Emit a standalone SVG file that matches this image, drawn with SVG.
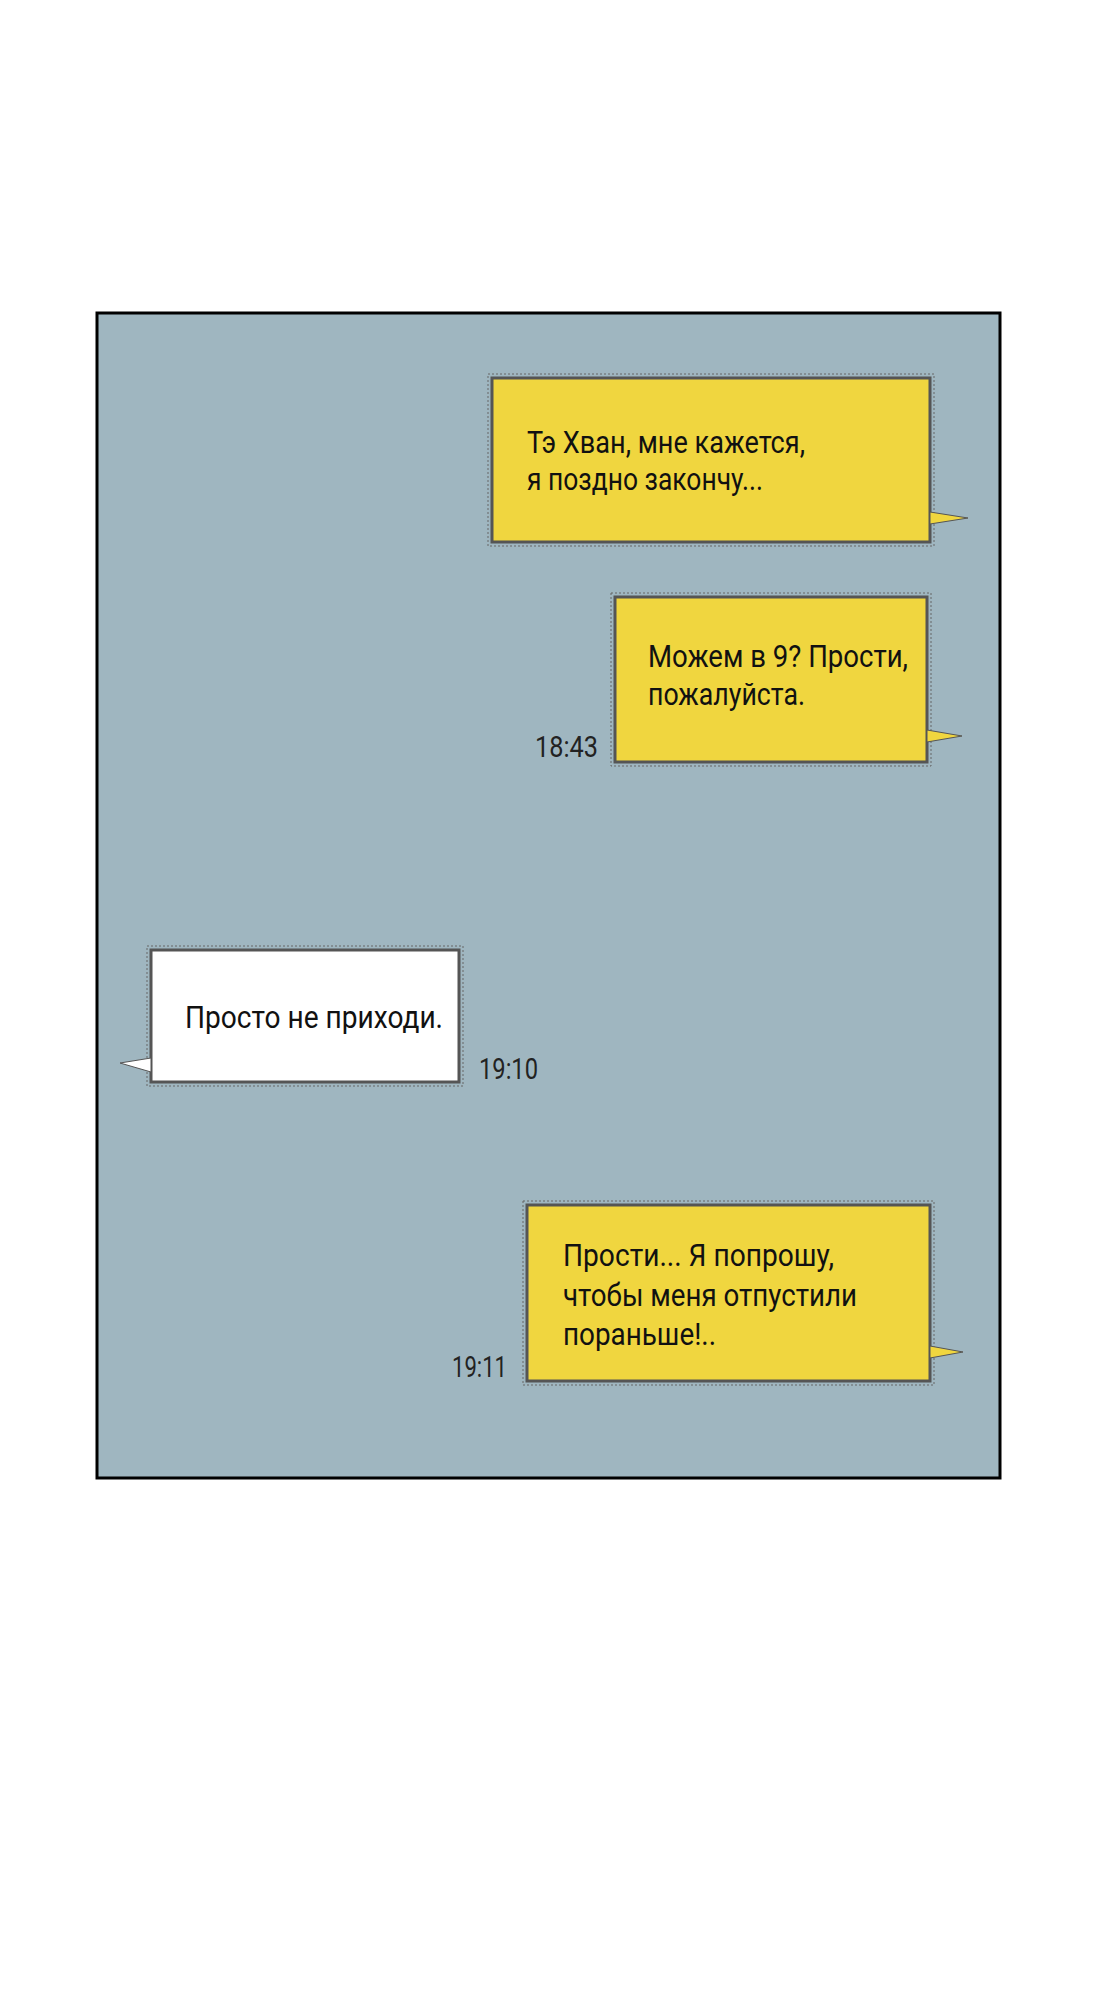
<svg xmlns="http://www.w3.org/2000/svg" width="1100" height="2001" viewBox="0 0 1100 2001">
<style>
.b{stroke:#555;stroke-width:3}
.y{fill:#f0d63f}
.w{fill:#fff}
.t{font-family:Roboto,"Liberation Sans",sans-serif;font-size:32px;fill:#111}
.tm{font-family:Roboto,"Liberation Sans",sans-serif;font-size:30px;fill:#222}
.d{stroke:#666;stroke-width:1;stroke-dasharray:2 2;fill:none}
</style>
<rect width="1100" height="2001" fill="#fff"/>
<rect x="97" y="313" width="903" height="1165" fill="#9fb6c0" stroke="#000" stroke-width="3"/>
<g id="connectors"></g>
<g id="m1">
<rect x="492" y="378" width="438" height="164" class="y b"/>
<rect x="488" y="374" width="446" height="172" class="d"/>
<polygon points="930,512 968,518 930,524" class="y" stroke="#555" stroke-width="1"/>
<text class="t" x="527" y="453" textLength="278" lengthAdjust="spacingAndGlyphs">Тэ Хван, мне кажется,</text>
<text class="t" x="527" y="490" textLength="236" lengthAdjust="spacingAndGlyphs">я поздно закончу...</text>
</g>
<g id="m2">
<rect x="615" y="597" width="312" height="165" class="y b"/>
<rect x="611" y="593" width="320" height="173" class="d"/>
<polygon points="927,730 962,736 927,742" class="y" stroke="#555" stroke-width="1"/>
<text class="t" x="648" y="667" textLength="260" lengthAdjust="spacingAndGlyphs">Можем в 9? Прости,</text>
<text class="t" x="648" y="705" textLength="157" lengthAdjust="spacingAndGlyphs">пожалуйста.</text>
<text class="tm" x="535" y="757" textLength="63" lengthAdjust="spacingAndGlyphs">18:43</text>
</g>
<g id="m3">
<rect x="151" y="950" width="308" height="132" class="w b"/>
<rect x="147" y="946" width="316" height="140" class="d"/>
<polygon points="151,1058 120,1063 151,1072" class="w" stroke="#555" stroke-width="1"/>
<text class="t" x="185" y="1028" textLength="258" lengthAdjust="spacingAndGlyphs">Просто не приходи.</text>
<text class="tm" x="479" y="1079" textLength="59" lengthAdjust="spacingAndGlyphs">19:10</text>
</g>
<g id="m4">
<rect x="527" y="1205" width="403" height="176" class="y b"/>
<rect x="523" y="1201" width="411" height="184" class="d"/>
<polygon points="930,1346 963,1352 930,1358" class="y" stroke="#555" stroke-width="1"/>
<text class="t" x="563" y="1266" textLength="271" lengthAdjust="spacingAndGlyphs">Прости... Я попрошу,</text>
<text class="t" x="563" y="1306" textLength="294" lengthAdjust="spacingAndGlyphs">чтобы меня отпустили</text>
<text class="t" x="563" y="1345" textLength="153" lengthAdjust="spacingAndGlyphs">пораньше!..</text>
<text class="tm" x="452" y="1377" textLength="55" lengthAdjust="spacingAndGlyphs">19:11</text>
</g>
</svg>
